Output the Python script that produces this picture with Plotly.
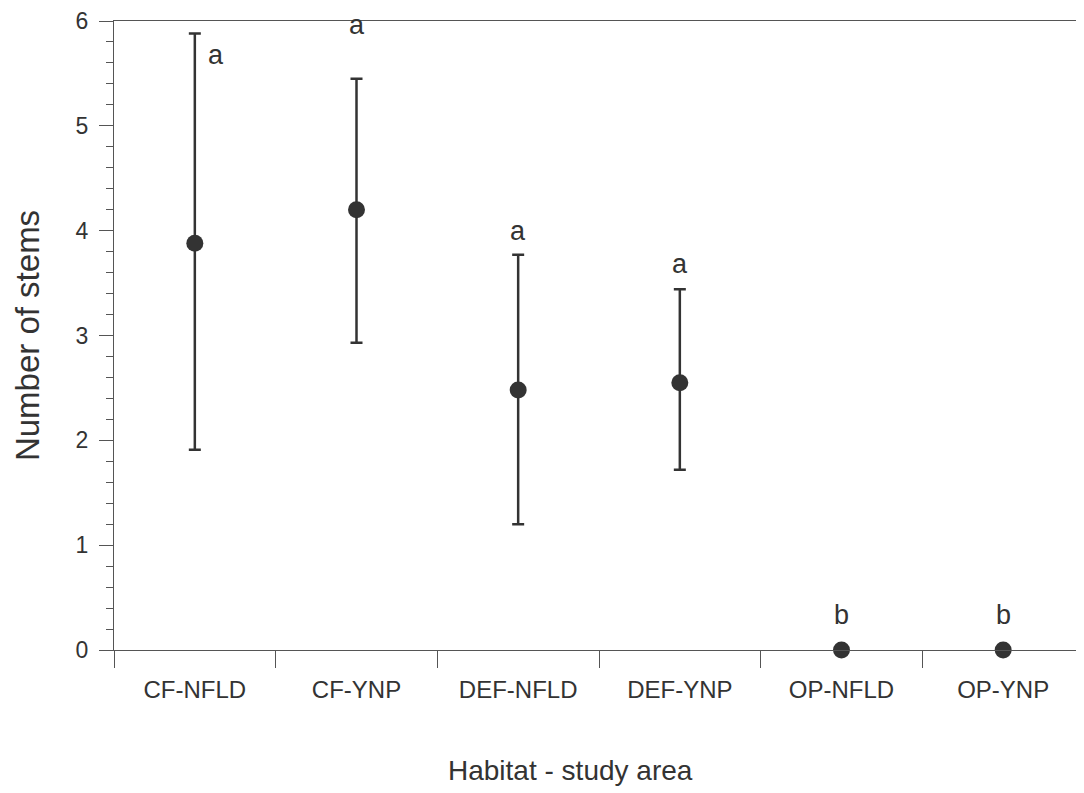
import plotly.graph_objects as go

categories = ["CF-NFLD", "CF-YNP", "DEF-NFLD", "DEF-YNP", "OP-NFLD", "OP-YNP"]
means = [3.88, 4.20, 2.48, 2.55, 0.0, 0.0]
upper = [5.88, 5.45, 3.77, 3.44, 0.0, 0.0]
lower = [1.91, 2.93, 1.20, 1.72, 0.0, 0.0]
letters = ["a", "a", "a", "a", "b", "b"]
x_title = "Habitat - study area"
y_title = "Number of stems"

err_plus = [u - m for u, m in zip(upper, means)]
err_minus = [m - l for m, l in zip(means, lower)]

dark = "#333333"
axcol = "#555555"
fam = "Arial, Liberation Sans, sans-serif"

fig = go.Figure()
fig.add_trace(go.Scatter(
    x=categories, y=means, mode="markers",
    marker=dict(size=17, color=dark),
    error_y=dict(type="data", symmetric=False, array=err_plus, arrayminus=err_minus,
                 color=dark, thickness=2.5, width=6),
    cliponaxis=False, showlegend=False,
))

# letter placement offsets (styling)
xshifts = [21, 0, 0, 0, 0, 0]
yshifts = [-21, 54, 24, 25, 35, 35]
for c, u, lt, xs, ys in zip(categories, upper, letters, xshifts, yshifts):
    fig.add_annotation(x=c, y=u, text=lt, showarrow=False, xshift=xs, yshift=ys,
                       font=dict(size=27, color=dark, family=fam))

# x-axis title (placed slightly left of plot centre, as in the original)
fig.add_annotation(xref="paper", yref="paper", x=0.471, y=-0.192, text=x_title,
                   showarrow=False, xanchor="center", yanchor="middle",
                   font=dict(size=28, color=dark, family=fam))

fig.update_layout(
    width=1076, height=785,
    margin=dict(l=106, r=0, t=13, b=143, pad=0),
    paper_bgcolor="white", plot_bgcolor="white",
    font=dict(family=fam, color=dark),
    xaxis=dict(
        type="category", range=[-0.5, 5.5], tickson="boundaries",
        ticks="outside", ticklen=17, tickwidth=1, tickcolor=axcol,
        showline=True, linecolor=axcol, linewidth=1, mirror=True,
        showgrid=False, zeroline=False,
        tickfont=dict(size=24, color=dark), ticklabelstandoff=18,
    ),
    yaxis=dict(
        range=[0, 6], dtick=1, ticks="outside", ticklen=14, tickwidth=1, tickcolor=axcol,
        showline=True, linecolor=axcol, linewidth=1,
        showgrid=False, zeroline=False,
        tickfont=dict(size=23, color=dark), ticklabelstandoff=6,
        minor=dict(dtick=0.2, ticks="outside", ticklen=7, tickcolor=axcol, showgrid=False),
        title=dict(text=y_title, font=dict(size=33, color=dark), standoff=26),
    ),
)

fig.write_html("out.html")
